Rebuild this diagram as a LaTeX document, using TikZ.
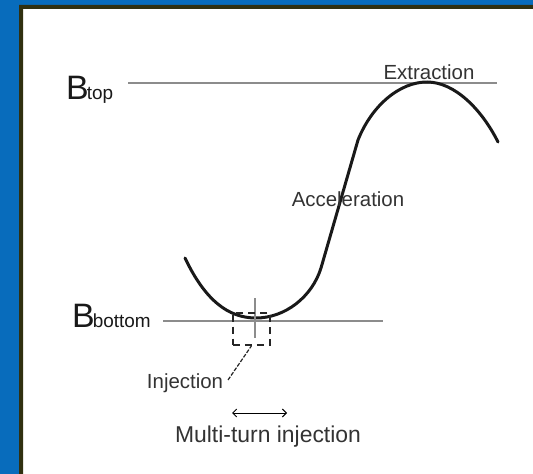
\documentclass[tikz,border=0pt]{standalone}
\usepackage{fontspec}
\setmainfont{Liberation Sans}
\usetikzlibrary{arrows.meta,positioning}
\definecolor{slideblue}{RGB}{8,108,188}
\definecolor{frameolive}{RGB}{48,48,16}

\begin{document}
\begin{tikzpicture}[x=1bp, y=-1bp,
  every node/.style={inner sep=0pt, text=black!80},
  lbl/.style={font=\fontsize{20.5}{20.5}\selectfont},
  bigb/.style={font=\fontsize{34}{34}\selectfont, anchor=base west, text=black!90},
  level/.style={draw=black!45, line width=1.5pt},
  orbit/.style={draw=black!90, line width=3pt, line cap=round},
  injbox/.style={draw=black!85, line width=1.5pt, dash pattern=on 7pt off 5pt,
                 minimum width=37bp, minimum height=32bp},
  leader/.style={draw=black!85, line width=1.2pt, dash pattern=on 4pt off 1.5pt},
  span/.style={{Straight Barb[length=4pt,width=8pt]}-{Straight Barb[length=4pt,width=8pt]}, line width=1pt}
]
\useasboundingbox (0,0) rectangle (533,474);

%% slide frame
\fill[white] (0,0) rectangle (533,474);
\fill[slideblue] (0,0) rectangle (19,474) (0,0) rectangle (533,5);
\fill[frameolive] (19,5) rectangle (23,474) (19,5) rectangle (533,9);

%% field levels
\node[bigb] (btop) at (66,100) {B\kern-2pt{\fontsize{19}{19}\selectfont top}};
\node[bigb] (bbot) at (72,327) {B\kern-2pt{\fontsize{19}{19}\selectfont bottom}};
\coordinate (top-l) at (128,83);
\coordinate (top-r) at (497,83);
\coordinate (bot-l) at (163,321);
\coordinate (bot-r) at (383,321);
\draw[level] (top-l) -- (top-r);
\draw[level] (bot-l) -- (bot-r);

%% field cycle
\draw[orbit] (185,258) .. controls (205,300) and (228,318) .. (256,318)
  .. controls (285,318) and (312,297) .. (321,268) -- (358,140)
  .. controls (372,105) and (400,82) .. (427,82)
  .. controls (455,82) and (482,110) .. (498,142);

%% injection window
\coordinate (cross-t) at (255,298);
\coordinate (cross-b) at (255,338);
\draw[level] (cross-t) -- (cross-b);
\node[injbox] (injwin) at (251.5,329) {};

%% labels
\node[lbl] (extr) at (429,72) {Extraction};
\node[lbl] (accel) at (348,199) {Acceleration};
\node[lbl] (injlbl) at (185,383) {Injection};
\coordinate (injfoot) at (228,380);
\draw[leader] (injfoot) -- (injwin.south);

%% multi-turn
\coordinate (mt-l) at (232,413);
\coordinate (mt-r) at (287,413);
\draw[span] (mt-l) -- (mt-r);
\node[lbl, font=\fontsize{23}{23}\selectfont] (multi) at (268,437) {Multi-turn injection};

\end{tikzpicture}
\end{document}
